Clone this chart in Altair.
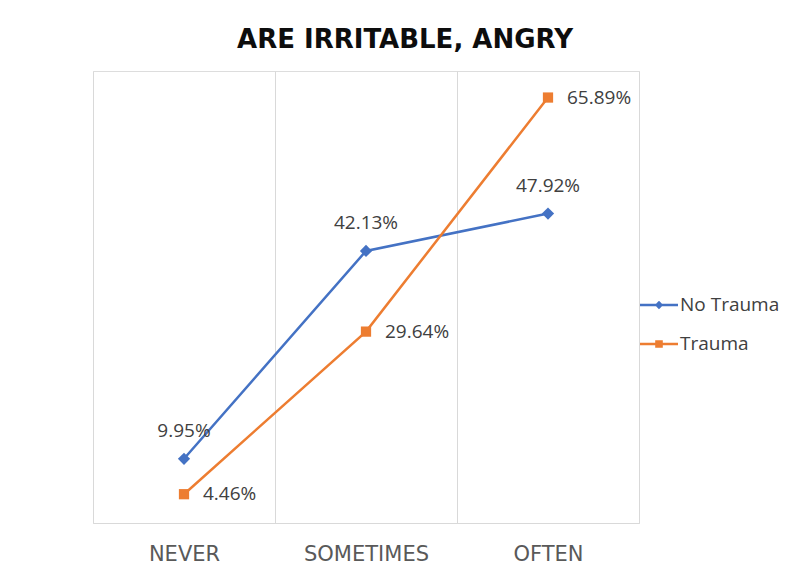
import altair as alt
import pandas as pd

categories = ["NEVER", "SOMETIMES", "OFTEN"]
series = ["No Trauma", "Trauma"]
no_trauma = [9.95, 42.13, 47.92]
trauma = [4.46, 29.64, 65.89]

rows = []
for s, vals in zip(series, [no_trauma, trauma]):
    for c, v in zip(categories, vals):
        rows.append({"category": c, "series": s, "value": v})
df = pd.DataFrame(rows)

colors = ["#4472C4", "#ED7D31"]
legend_shapes = [
    "M-1,-0.07H1V0.07H-1Z M0,-0.22L0.22,0L0,0.22L-0.22,0Z",
    "M-1,-0.07H1V0.07H-1Z M-0.2,-0.2H0.2V0.2H-0.2Z",
]

x = alt.X(
    "category:N",
    sort=categories,
    scale=alt.Scale(type="band", paddingInner=0, paddingOuter=0),
    axis=alt.Axis(
        title=None, tickBand="extent", grid=True, gridColor="#D9D9D9", gridWidth=1,
        domainColor="#D9D9D9", ticks=False, labelAngle=0,
        labelFont="DejaVu Sans", labelFontSize=21, labelColor="#595959", labelPadding=20,
    ),
)
y = alt.Y("value:Q", scale=alt.Scale(domain=[0, 70]), axis=None)
color_nolegend = alt.Color("series:N", scale=alt.Scale(domain=series, range=colors), legend=None)

base = alt.Chart(df)

leg = alt.Legend(
    title=None, orient="none", legendX=547, legendY=215, symbolSize=1444,
    labelFont="Open Sans", labelFontSize=19, labelColor="#404040", labelOffset=2,
    rowPadding=10, padding=0, symbolOpacity=1, symbolStrokeWidth=0,
)
legend_layer = base.mark_point(filled=True, opacity=1, size=0).encode(
    x=x, y=y,
    color=alt.Color("series:N", scale=alt.Scale(domain=series, range=colors), legend=leg),
    shape=alt.Shape("series:N", scale=alt.Scale(domain=series, range=legend_shapes), legend=leg),
)

lines = base.mark_line(strokeWidth=2.5).encode(x=x, y=y, color=color_nolegend)

diamonds = base.transform_filter(alt.datum.series == "No Trauma").mark_point(
    filled=True, shape="diamond", size=150, opacity=1
).encode(x=x, y=y, color=color_nolegend)

squares = base.transform_filter(alt.datum.series == "Trauma").mark_point(
    filled=True, shape="square", size=105, opacity=1
).encode(x=x, y=y, color=color_nolegend)

label_base = base.transform_calculate(label="format(datum.value, '.2f') + '%'")
labels_nt = label_base.transform_filter(alt.datum.series == "No Trauma").mark_text(
    font="Open Sans", fontSize=19, color="#404040", dy=-28, align="center", baseline="middle"
).encode(x=x, y=y, text="label:N")
labels_t = label_base.transform_filter(alt.datum.series == "Trauma").mark_text(
    font="Open Sans", fontSize=19, color="#404040", dx=19, align="left", baseline="middle"
).encode(x=x, y=y, text="label:N")

chart = alt.layer(legend_layer, lines, diamonds, squares, labels_nt, labels_t).properties(
    width=546,
    height=452,
    title=alt.TitleParams(
        "ARE IRRITABLE, ANGRY", font="DejaVu Sans", fontSize=26, fontWeight="bold",
        color="#0D0D0D", anchor="middle", frame="group", dx=39, offset=18,
    ),
    autosize=alt.AutoSizeParams(type="none"),
    padding={"left": 85, "top": 63, "right": 147, "bottom": 50},
).configure_view(stroke=None).configure(background="white")

chart.save("out.html", embed_options={"renderer": "svg", "actions": False})
